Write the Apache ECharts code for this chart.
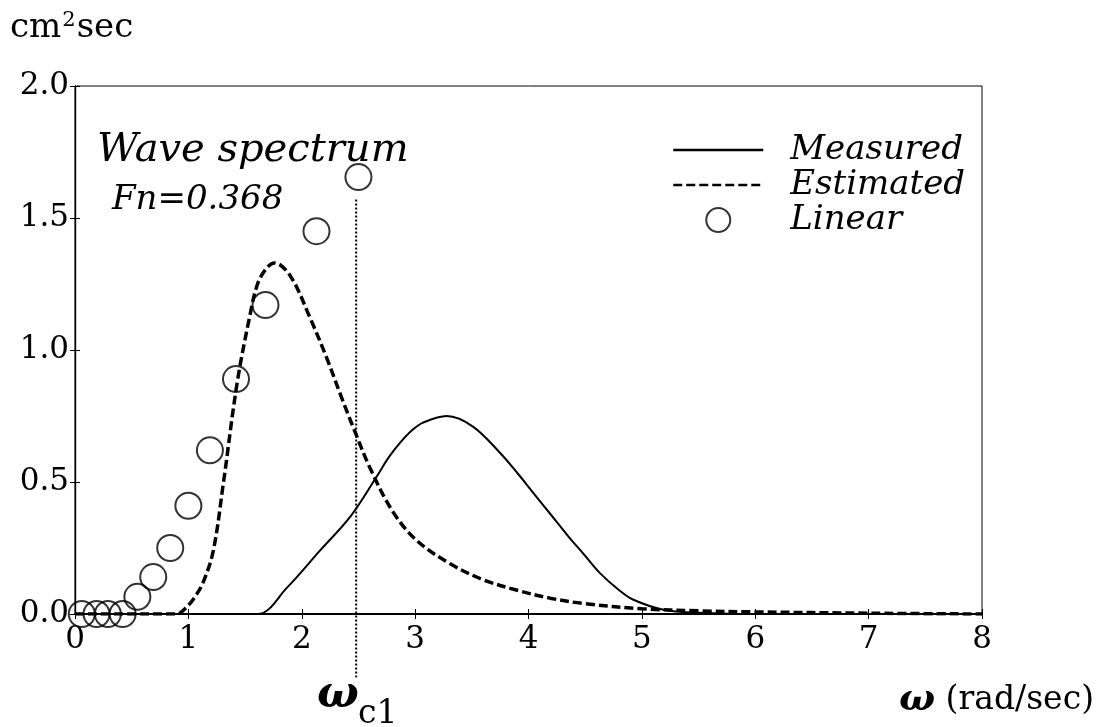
<!DOCTYPE html>
<html>
<head>
<meta charset="utf-8">
<title>Wave spectrum</title>
<script src="https://cdn.jsdelivr.net/npm/echarts@6/dist/echarts.min.js"></script>
<style>
  html, body { margin: 0; padding: 0; background: #fff; }
  #chart { width: 1105px; height: 727px; }
</style>
</head>
<body>
<div id="chart"></div>
<script>
// Frequency axis ticks (rad/sec) and spectral density ticks (cm^2 sec)
const xTicks = [0, 1, 2, 3, 4, 5, 6, 7, 8];
const yTicks = [0.0, 0.5, 1.0, 1.5, 2.0];

// Measured spectrum
const omegaMeasured = [0.45, 1.0, 1.61, 1.87, 2.16, 2.43, 2.66, 2.77, 2.87, 2.97, 3.07, 3.28, 3.51, 3.75, 3.90, 4.04, 4.20, 4.34, 4.50, 4.63, 4.80, 4.92, 5.2, 5.5, 6.0, 7.0, 8.0];
const measured      = [0, 0, 0, 0.10, 0.24, 0.37, 0.52, 0.595, 0.65, 0.695, 0.725, 0.75, 0.71, 0.61, 0.535, 0.46, 0.375, 0.30, 0.22, 0.155, 0.09, 0.055, 0.015, 0.005, 0, 0, 0];

// Estimated spectrum
const omegaEstimated = [0.0, 0.5, 0.9, 0.97, 1.05, 1.13, 1.22, 1.31, 1.43, 1.54, 1.61, 1.69, 1.76, 1.90, 2.07, 2.22, 2.36, 2.47, 2.60, 2.80, 3.01, 3.31, 3.60, 3.90, 4.19, 4.48, 5.0, 5.5, 6.0, 7.0, 8.0];
const estimated      = [0, 0, 0, 0.02, 0.06, 0.12, 0.24, 0.50, 0.875, 1.125, 1.25, 1.31, 1.33, 1.28, 1.125, 0.97, 0.81, 0.69, 0.555, 0.39, 0.28, 0.19, 0.13, 0.09, 0.06, 0.04, 0.02, 0.012, 0.008, 0.003, 0];

// Linear theory points
const omegaLinear = [0.06, 0.19, 0.29, 0.42, 0.55, 0.69, 0.84, 1.0, 1.19, 1.42, 1.68, 2.13, 2.5];
const linear      = [0, 0, 0, 0, 0.065, 0.14, 0.25, 0.41, 0.62, 0.89, 1.17, 1.45, 1.655];

// Critical frequency marker and the span of its dotted guide
const omegaC1 = 2.48;
const c1Span = [1.57, -0.24];

const seriesNames = ['Measured', 'Estimated', 'Linear'];

const zip = (xs, ys) => xs.map((x, i) => [x, ys[i]]);

const SERIF = '"DejaVu Serif", "Liberation Serif", serif';

const chart = echarts.init(document.getElementById('chart'), null, { renderer: 'canvas' });

const axisCommon = {
  type: 'value',
  splitLine: { show: false },
  axisLine: { show: true, lineStyle: { color: '#000', width: 1.2 } },
  axisTick: { show: true, inside: true, length: 5, lineStyle: { color: '#000', width: 1 } }
};

// line-only legend samples: hide the marker that line series add to their icon
const hiddenMarker = { color: 'rgba(0,0,0,0)', borderWidth: 0, opacity: 0 };

chart.setOption({
  backgroundColor: '#fff',
  animation: false,
  grid: {
    left: 75, right: 123, top: 86, bottom: 113,
    show: true, borderColor: '#000', borderWidth: 1
  },
  legend: {
    data: [
      { name: seriesNames[0], itemStyle: hiddenMarker, lineStyle: { width: 2.5 } },
      { name: seriesNames[1], itemStyle: hiddenMarker, lineStyle: { width: 2.5 } },
      { name: seriesNames[2], itemStyle: { color: 'rgba(255,255,255,0)', borderColor: '#000', borderWidth: 2 } }
    ],
    orient: 'vertical',
    left: 667, top: 128,
    itemWidth: 90, itemHeight: 24, itemGap: 1,
    textStyle: {
      fontFamily: SERIF, fontStyle: 'italic', fontSize: 34, color: '#000',
      padding: [0, 0, 0, 22]
    }
  },
  xAxis: [
    Object.assign({}, axisCommon, {
      min: xTicks[0], max: xTicks[xTicks.length - 1], interval: 1,
      axisLine: { show: true, lineStyle: { color: '#000', width: 2 } },
      axisLabel: { fontFamily: SERIF, fontSize: 31, color: '#000', margin: 10 }
    }),
    Object.assign({}, axisCommon, {
      position: 'top',
      min: xTicks[0], max: xTicks[xTicks.length - 1], interval: 1,
      axisLabel: { show: false }
    })
  ],
  yAxis: [
    Object.assign({}, axisCommon, {
      min: yTicks[0], max: yTicks[yTicks.length - 1], interval: 0.5,
      axisLabel: {
        fontFamily: SERIF, fontSize: 31, color: '#000', margin: 6,
        formatter: v => v.toFixed(1)
      }
    }),
    Object.assign({}, axisCommon, {
      position: 'right',
      min: yTicks[0], max: yTicks[yTicks.length - 1], interval: 0.5,
      axisLabel: { show: false }
    })
  ],
  series: [
    {
      name: 'Measured',
      type: 'line',
      data: zip(omegaMeasured, measured),
      symbol: 'none',
      smooth: 0.35,
      lineStyle: { color: '#000', width: 2 },
      itemStyle: { color: '#000' },
      z: 3
    },
    {
      name: 'Estimated',
      type: 'line',
      data: zip(omegaEstimated, estimated),
      symbol: 'none',
      smooth: 0.35,
      lineStyle: { color: '#000', width: 3.5, type: [9, 4] },
      itemStyle: { color: '#000' },
      z: 3
    },
    {
      name: 'Linear',
      type: 'scatter',
      data: zip(omegaLinear, linear),
      symbol: 'circle',
      symbolSize: 26,
      itemStyle: { color: 'rgba(255,255,255,0)', borderColor: '#000', borderWidth: 2 },
      z: 4
    },
    {
      name: 'omega_c1',
      type: 'line',
      data: [[omegaC1, c1Span[0]], [omegaC1, c1Span[1]]],
      symbol: 'none',
      clip: false,
      lineStyle: { color: '#000', width: 2, type: 'dotted' },
      silent: true,
      z: 2
    }
  ],
  graphic: [
    {
      type: 'text', left: 10, top: 10,
      style: {
        text: '{a|cm}{s|2}{a|sec}',
        rich: {
          a: { fontFamily: SERIF, fontSize: 34, fill: '#000' },
          s: { fontFamily: SERIF, fontSize: 21, fill: '#000', padding: [0, 1, 15, 1] }
        }
      }
    },
    {
      type: 'text', left: 97, top: 131,
      style: { text: 'Wave spectrum', fontFamily: SERIF, fontStyle: 'italic', fontSize: 40, fill: '#000' }
    },
    {
      type: 'text', left: 112, top: 183,
      style: { text: 'Fn=0.368', fontFamily: SERIF, fontStyle: 'italic', fontSize: 34, fill: '#000' }
    },
    {
      type: 'text', right: 11, top: 681,
      style: {
        text: '{w|ω}{t| (rad/sec)}',
        rich: {
          w: { fontFamily: SERIF, fontStyle: 'italic', fontWeight: 'bold', fontSize: 38, fill: '#000' },
          t: { fontFamily: SERIF, fontSize: 33, fill: '#000' }
        }
      }
    },
    {
      type: 'text', left: 317, top: 674,
      style: { text: 'ω', fontFamily: SERIF, fontStyle: 'italic', fontWeight: 'bold', fontSize: 44, fill: '#000' }
    },
    {
      type: 'text', left: 358, top: 698,
      style: { text: 'c1', fontFamily: SERIF, fontSize: 33, fill: '#000' }
    }
  ]
});
</script>
</body>
</html>
